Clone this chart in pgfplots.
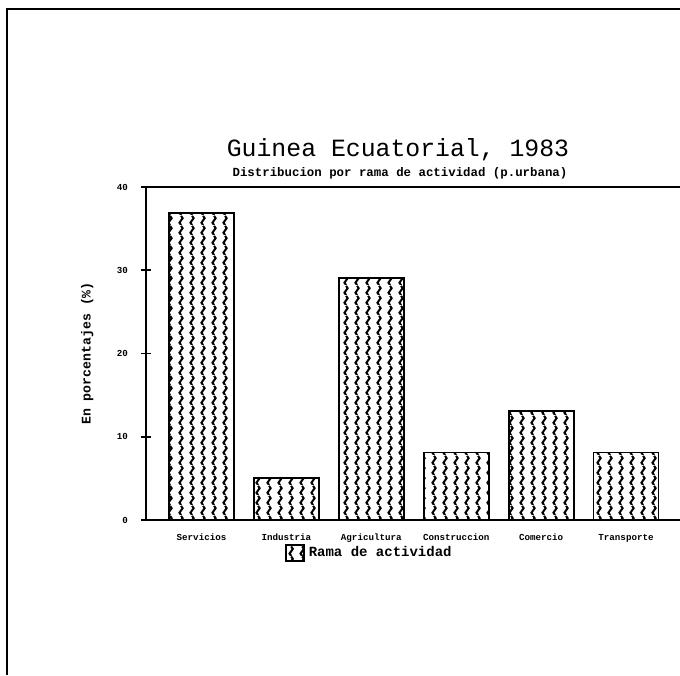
\documentclass[border=0pt]{standalone}
\usepackage{fontspec}
\setmainfont{Liberation Mono}
\usepackage{pgfplots}
\pgfplotsset{compat=1.18}
\usetikzlibrary{patterns}
\pgfdeclarepatternformonly{wavy}{\pgfqpoint{0pt}{0pt}}{\pgfqpoint{5.5pt}{5pt}}{\pgfqpoint{5.5pt}{5pt}}{%
  \pgfsetlinewidth{1.1pt}%
  \pgfpathmoveto{\pgfqpoint{2.75pt}{0pt}}%
  \pgfpathcurveto{\pgfqpoint{1.6pt}{0.8pt}}{\pgfqpoint{1.6pt}{1.7pt}}{\pgfqpoint{2.75pt}{2.5pt}}%
  \pgfpathcurveto{\pgfqpoint{3.9pt}{3.3pt}}{\pgfqpoint{3.9pt}{4.2pt}}{\pgfqpoint{2.75pt}{5pt}}%
  \pgfusepath{stroke}}
\pgfplotstableread{
x y
0 36.9
1 5.0
2 29.1
3 8.1
4 13.1
5 8.1
}\datatable
\begin{document}
\begin{tikzpicture}
\useasboundingbox (0,0) rectangle (340pt,337.5pt);
\draw[line width=1.2pt] (3.5pt,0) -- (3.5pt,333pt) -- (340pt,333pt);
\node at (199pt,262.5pt) {\fontsize{12.4pt}{14pt}\selectfont Guinea Ecuatorial, 1983};
\node at (200pt,251pt) {\fontsize{6.2pt}{7pt}\selectfont\bfseries Distribucion por rama de actividad (p.urbana)};
\begin{axis}[
  at={(73pt,77.5pt)}, anchor=south west,
  scale only axis, width=267pt, height=166.5pt,
  xmin=-0.654, xmax=5.636, ymin=0, ymax=40,
  axis x line*=bottom, axis y line*=left,
  axis line style={line width=0.9pt},
  ytick={0,10,20,30,40},
  tick align=center, major tick length=5pt,
  tick style={line width=0.8pt, black},
  xtick=data, xtick style={draw=none},
  xticklabels={Servicios,Industria,Agricultura,Construccion,Comercio,Transporte},
  ticklabel style={font=\fontsize{4.6pt}{5pt}\selectfont\bfseries},
  /pgf/number format/assume math mode=true,
  yticklabel style={xshift=-3pt},
  xticklabel style={yshift=-1pt},
  ylabel={En porcentajes (\%)},
  ylabel style={font=\fontsize{6.6pt}{7pt}\selectfont\bfseries, at={(axis description cs:-0.11,0.5)}, anchor=center},
  legend style={draw=none, fill=none, at={(axis description cs:0.42,-0.1)}, anchor=center,
    font=\fontsize{7pt}{8pt}\selectfont\bfseries, inner sep=0pt},
  legend image code/.code={\draw[line width=0.9pt, pattern=wavy] (0pt,-4pt) rectangle (9pt,4pt);},
  clip=false,
]
\addplot[ybar, bar width=32.5pt, draw=black, line width=0.9pt, pattern=wavy] table[x=x,y=y] {\datatable};
\addlegendentry{Rama de actividad}
\draw[line width=0.9pt] (rel axis cs:0,1) -- (rel axis cs:1,1);
\end{axis}
\end{tikzpicture}
\end{document}
